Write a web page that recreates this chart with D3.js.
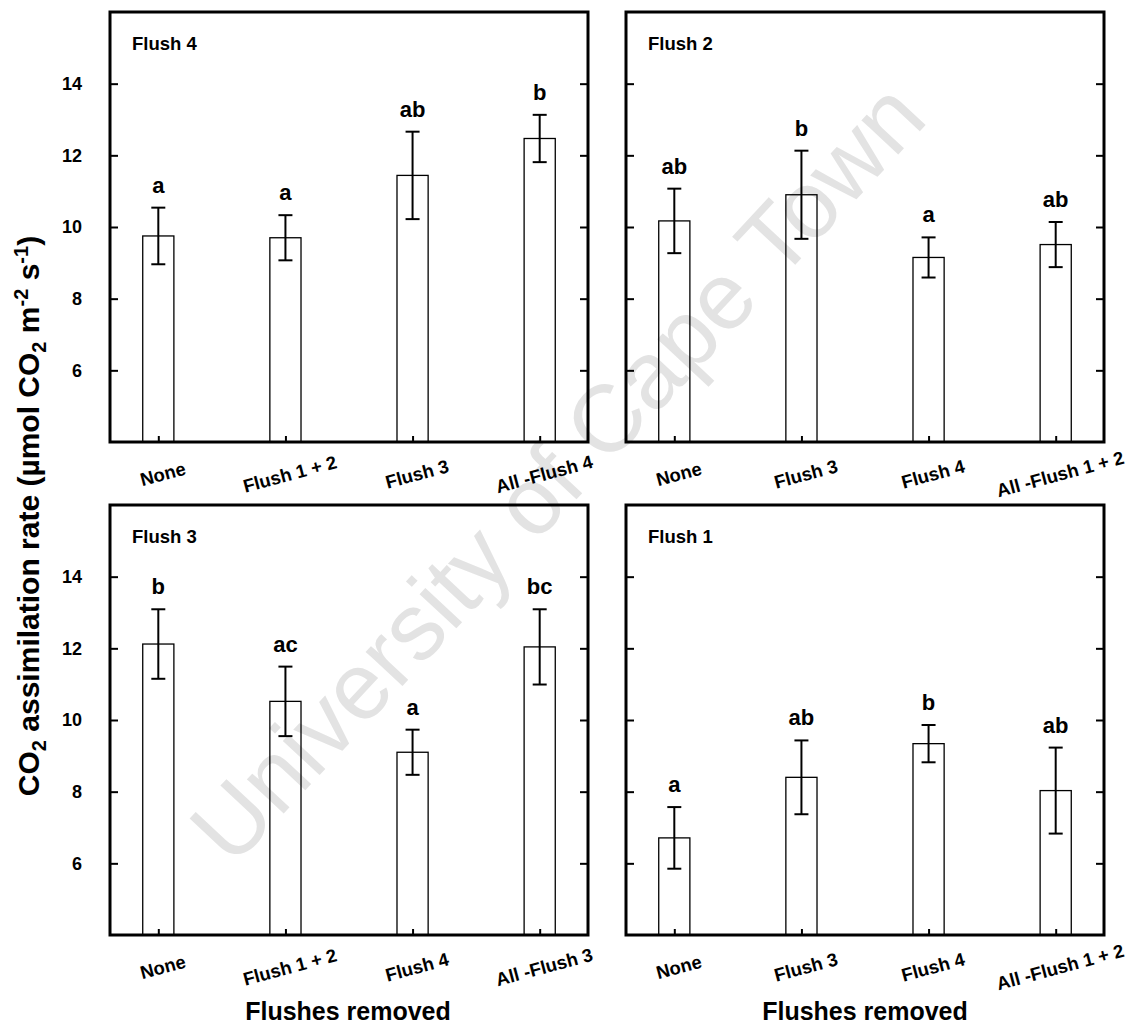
<!DOCTYPE html>
<html>
<head>
  <meta charset="utf-8">
  <title>CO2 assimilation rate by flushes removed</title>
  <script src="https://d3js.org/d3.v7.min.js"></script>
  <style>
    body { margin: 0; background: #fff; }
    svg { font-family: "Liberation Sans", Arial, Helvetica, sans-serif; }
    .frame { fill: none; stroke: #000; stroke-width: 3px; }
    .bar { fill: none; stroke: #000; stroke-width: 1.3px; }
    .err { stroke: #000; stroke-width: 2px; }
    .letter { font-size: 22px; font-weight: bold; text-anchor: middle; }
    .ptitle { font-size: 18.5px; font-weight: bold; }
  </style>
</head>
<body>
  <svg width="1137" height="1025"></svg>

  <script>
    const panelTitles = ["Flush 4", "Flush 2", "Flush 3", "Flush 1"];
    const categories = [
      ["None", "Flush 1 + 2", "Flush 3", "All -Flush 4"],
      ["None", "Flush 3", "Flush 4", "All -Flush 1 + 2"],
      ["None", "Flush 1 + 2", "Flush 4", "All -Flush 3"],
      ["None", "Flush 3", "Flush 4", "All -Flush 1 + 2"]
    ];
    const means = [
      [9.75, 9.70, 11.44, 12.47],
      [10.17, 10.90, 9.15, 9.51],
      [12.12, 10.52, 9.10, 12.04],
      [6.71, 8.40, 9.34, 8.03]
    ];
    const errors = [
      [0.79, 0.63, 1.22, 0.66],
      [0.90, 1.23, 0.56, 0.63],
      [0.97, 0.97, 0.63, 1.05],
      [0.86, 1.03, 0.52, 1.20]
    ];
    const letters = [
      ["a", "a", "ab", "b"],
      ["ab", "b", "a", "ab"],
      ["b", "ac", "a", "bc"],
      ["a", "ab", "b", "ab"]
    ];
    const yTicks = [6, 8, 10, 12, 14];

    const svg = d3.select("svg");

    // watermark behind everything
    svg.append("text")
      .attr("transform", "translate(557,472) rotate(-47)")
      .attr("text-anchor", "middle")
      .attr("dominant-baseline", "central")
      .attr("font-size", 95)
      .attr("fill", "#e3e3e3")
      .text("University of Cape Town");

    const pw = 478, ph = 430;
    const panelPos = [[110, 12], [626, 12], [110, 505], [626, 505]];

    panelPos.forEach(([left, top], i) => {
      const g = svg.append("g").attr("transform", `translate(${left},${top})`);

      const x = d3.scaleLinear().domain([-0.38, 3.38]).range([0, pw]);
      const y = d3.scaleLinear().domain([4, 16]).range([ph, 0]);
      const bw = x(0.245) - x(0);
      const cap = 7;

      const rows = means[i].map((m, j) => ({ j, m, e: errors[i][j], lab: letters[i][j] }));

      // bars
      g.selectAll(".bar").data(rows).join("rect")
        .attr("class", "bar")
        .attr("x", d => x(d.j) - bw / 2)
        .attr("y", d => y(d.m))
        .attr("width", bw)
        .attr("height", d => ph - y(d.m));

      // error bars
      const eg = g.selectAll(".errg").data(rows).join("g").attr("class", "errg");
      eg.append("line").attr("class", "err")
        .attr("x1", d => x(d.j)).attr("x2", d => x(d.j))
        .attr("y1", d => y(d.m + d.e)).attr("y2", d => y(d.m - d.e));
      eg.append("line").attr("class", "err")
        .attr("x1", d => x(d.j) - cap).attr("x2", d => x(d.j) + cap)
        .attr("y1", d => y(d.m + d.e)).attr("y2", d => y(d.m + d.e));
      eg.append("line").attr("class", "err")
        .attr("x1", d => x(d.j) - cap).attr("x2", d => x(d.j) + cap)
        .attr("y1", d => y(d.m - d.e)).attr("y2", d => y(d.m - d.e));

      // significance letters
      g.selectAll(".letter").data(rows).join("text")
        .attr("class", "letter")
        .attr("x", d => x(d.j))
        .attr("y", d => y(d.m + d.e) - 15)
        .text(d => d.lab);

      // axes
      const left_ = d3.axisLeft(y).tickValues(yTicks).tickSizeInner(-8).tickSizeOuter(0).tickPadding(28);
      if (i % 2 === 1) left_.tickFormat("");
      const ya = g.append("g").call(left_);
      ya.selectAll("text").attr("font-size", 18).attr("font-weight", "bold")
        .attr("font-family", "Liberation Sans, Arial, sans-serif");

      g.append("g").attr("transform", `translate(${pw},0)`)
        .call(d3.axisRight(y).tickValues(yTicks).tickSizeInner(-8).tickSizeOuter(0).tickFormat(""));

      const xa = g.append("g").attr("transform", `translate(0,${ph})`)
        .call(d3.axisBottom(x).tickValues([0, 1, 2, 3]).tickSizeInner(-6).tickSizeOuter(0)
          .tickFormat(j => categories[i][j]));
      xa.selectAll("text")
        .attr("x", 4).attr("y", 32).attr("dy", "0.35em")
        .attr("transform", "rotate(-15 4 32)")
        .attr("font-size", 18.5).attr("font-weight", "bold")
        .attr("font-family", "Liberation Sans, Arial, sans-serif");

      g.selectAll(".domain").remove();
      g.selectAll(".tick line").attr("stroke", "#000").attr("stroke-width", 2);

      g.append("rect").attr("class", "frame").attr("width", pw).attr("height", ph);

      g.append("text").attr("class", "ptitle").attr("x", 22).attr("y", 38).text(panelTitles[i]);
    });

    // shared axis titles
    const yt = svg.append("text")
      .attr("transform", "translate(39,516) rotate(-90)")
      .attr("text-anchor", "middle")
      .attr("font-size", 30).attr("font-weight", "bold");
    yt.append("tspan").text("CO");
    yt.append("tspan").attr("dy", 7).attr("font-size", 20).text("2");
    yt.append("tspan").attr("dy", -7).text(" assimilation rate (\u00b5mol CO");
    yt.append("tspan").attr("dy", 7).attr("font-size", 20).text("2");
    yt.append("tspan").attr("dy", -7).text(" m");
    yt.append("tspan").attr("dy", -11).attr("font-size", 20).text("-2");
    yt.append("tspan").attr("dy", 11).text(" s");
    yt.append("tspan").attr("dy", -11).attr("font-size", 20).text("-1");
    yt.append("tspan").attr("dy", 11).text(")");

    [348, 865].forEach(cx => {
      svg.append("text")
        .attr("x", cx).attr("y", 1020)
        .attr("text-anchor", "middle")
        .attr("font-size", 25).attr("font-weight", "bold")
        .text("Flushes removed");
    });
  </script>
</body>
</html>
